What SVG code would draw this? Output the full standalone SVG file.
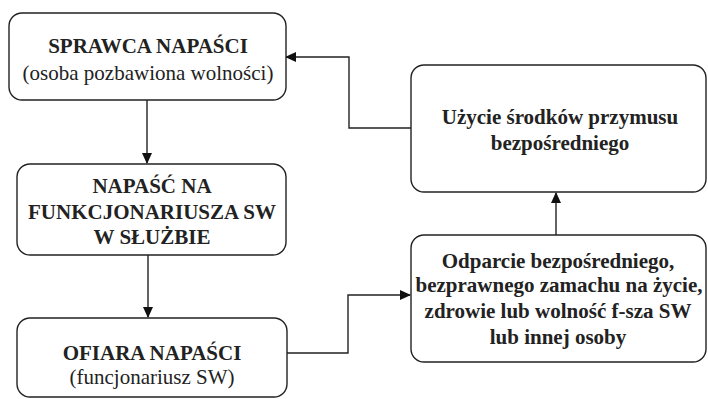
<svg xmlns="http://www.w3.org/2000/svg" width="708" height="399" viewBox="0 0 708 399">
<defs>
<style>
.box{fill:#fff;stroke:#222;stroke-width:1.4}
.t{font-family:'Liberation Serif','Times New Roman',Tinos,'DejaVu Serif',serif;font-size:21px;fill:#222;text-anchor:middle}
.b{font-weight:bold}
.c{fill:none;stroke:#222;stroke-width:1.4}
</style>
<marker id="ah" markerWidth="11" markerHeight="10" refX="10" refY="5" orient="auto" markerUnits="userSpaceOnUse">
<path d="M0,0 L11,5 L0,10 Z" fill="#111"/>
</marker>
</defs>
<rect width="708" height="399" fill="#fff"/>
<g id="connectors">
<path class="c" d="M147,100 V163" marker-end="url(#ah)"/>
<path class="c" d="M148,255 V317" marker-end="url(#ah)"/>
<path class="c" d="M287,353 H348 V295 H410" marker-end="url(#ah)"/>
<path class="c" d="M556,235 V193" marker-end="url(#ah)"/>
<path class="c" d="M411,128 H349 V57 H286" marker-end="url(#ah)"/>
</g>
<g id="node-sprawca">
<rect class="box" x="9" y="13" width="277" height="87" rx="13"/>
<text class="t b" font-family="Liberation Serif, serif" x="148" y="53">SPRAWCA NAPAŚCI</text>
<text class="t" font-family="Liberation Serif, serif" x="148" y="80">(osoba pozbawiona wolności)</text>
</g>
<g id="node-napasc">
<rect class="box" x="17" y="164" width="269" height="91" rx="13"/>
<text class="t b" x="152" y="193">NAPAŚĆ NA</text>
<text class="t b" x="152" y="219">FUNKCJONARIUSZA SW</text>
<text class="t b" x="152" y="244">W SŁUŻBIE</text>
</g>
<g id="node-ofiara">
<rect class="box" x="17" y="318" width="270" height="79" rx="13"/>
<text class="t b" x="152" y="360">OFIARA NAPAŚCI</text>
<text class="t" x="152" y="384">(funcjonariusz SW)</text>
</g>
<g id="node-odparcie">
<rect class="box" x="411" y="235" width="295" height="127" rx="13"/>
<text class="t b" x="558" y="268">Odparcie bezpośredniego,</text>
<text class="t b" x="559" y="292">bezprawnego zamachu na życie,</text>
<text class="t b" x="558" y="318">zdrowie lub wolność f-sza SW</text>
<text class="t b" x="558" y="344">lub innej osoby</text>
</g>
<g id="node-uzycie">
<rect class="box" x="411" y="65" width="295" height="127" rx="13"/>
<text class="t b" x="560" y="124">Użycie środków przymusu</text>
<text class="t b" x="560" y="150">bezpośredniego</text>
</g>
</svg>
